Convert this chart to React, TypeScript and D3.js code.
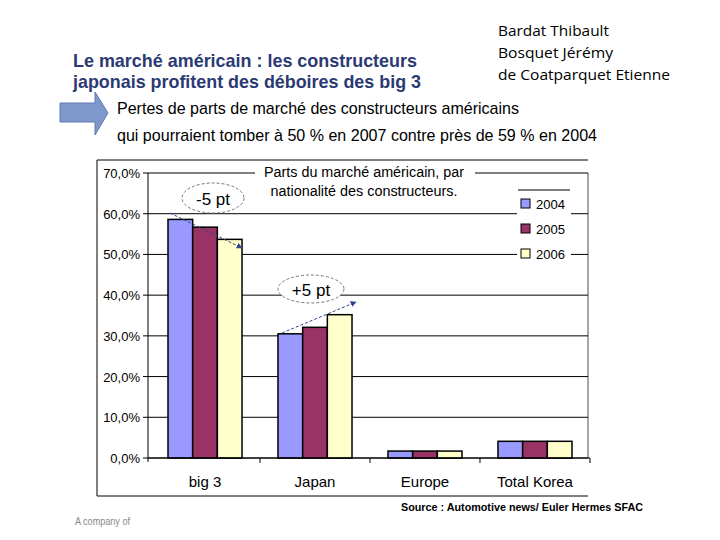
import React from "react";
import * as d3 from "d3";

const categories = ["big 3", "Japan", "Europe", "Total Korea"];
const years = ["2004", "2005", "2006"];
const values2004 = [0.586, 0.305, 0.017, 0.041];
const values2005 = [0.567, 0.321, 0.017, 0.041];
const values2006 = [0.537, 0.352, 0.017, 0.041];
const yTicks = [0, 0.1, 0.2, 0.3, 0.4, 0.5, 0.6, 0.7];
const colors = ["#9999ff", "#993366", "#ffffcc"];
const series = [values2004, values2005, values2006];

const titleLines = [
  "Le marché américain : les constructeurs",
  "japonais profitent des déboires des big 3",
];
const subLines = [
  "Pertes de parts de marché des constructeurs américains",
  "qui pourraient tomber à 50 % en 2007 contre près de 59 % en 2004",
];
const authors = ["Bardat Thibault", "Bosquet Jérémy", "de Coatparquet Etienne"];
const authorWidths = [111, 115, 172];
const chartTitle = ["Parts du marché américain, par", "nationalité des constructeurs."];

export default function App() {
  const y = d3.scaleLinear().domain([0, 0.7]).range([458, 173]);
  const x0 = d3
    .scaleBand<string>()
    .domain(categories)
    .range([150, 590])
    .paddingInner(0.327)
    .paddingOuter(0.1636);
  const x1 = d3.scaleBand<string>().domain(years).range([0, x0.bandwidth()]);
  const fmt = (v: number) => d3.format(".1%")(v).replace(".", ",");
  const sans = "'Liberation Sans', Arial, sans-serif";
  const axisX = 148;

  const arrow1 = { x1: x0("big 3")! + 2, y1: 213, x2: x0("big 3")! + x0.bandwidth(), y2: 248 };
  const arrow2 = { x1: x0("Japan")! + 4, y1: 333, x2: x0("Japan")! + x0.bandwidth() + 4, y2: 302 };

  return (
    <svg width={720} height={540} style={{ position: "absolute", left: 0, top: 0, background: "#fff" }}>
      <defs>
        <marker id="ah" viewBox="0 0 10 10" refX="9" refY="5" markerWidth="6" markerHeight="6" orient="auto">
          <path d="M0,0 L10,5 L0,10 z" fill="#2f4485" />
        </marker>
      </defs>
      <rect x={0} y={0} width={720} height={540} fill="#fff" />

      {/* Authors */}
      {authors.map((a, i) => (
        <text key={a} x={498} y={36 + i * 22} fontFamily="'Open Sans', sans-serif" fontSize={15} fill="#000"
          textLength={authorWidths[i]} lengthAdjust="spacingAndGlyphs">
          {a}
        </text>
      ))}

      {/* Title */}
      {titleLines.map((t, i) => (
        <text key={t} x={73} y={67 + i * 21} fontFamily={sans} fontWeight="bold" fontSize={19} fill="#2b3a73"
          textLength={i === 0 ? 344 : 348} lengthAdjust="spacingAndGlyphs">
          {t}
        </text>
      ))}

      {/* Block arrow */}
      <path d="M60,103 L95,103 L95,92 L108,113 L95,135 L95,122 L60,122 Z" fill="#7f98cc" stroke="#5f79b3" strokeWidth={1} />

      {subLines.map((t, i) => (
        <text key={t} x={117} y={114 + i * 27} fontFamily={sans} fontSize={17} fill="#000"
          textLength={i === 0 ? 402 : 480} lengthAdjust="spacingAndGlyphs">
          {t}
        </text>
      ))}

      {/* Chart frame */}
      <line x1={97} y1={160} x2={588} y2={160} stroke="#000" strokeWidth={1} />
      <line x1={97} y1={160} x2={97} y2={496} stroke="#000" strokeWidth={1} />
      <line x1={97} y1={496} x2={588} y2={496} stroke="#000" strokeWidth={1} />
      <line x1={588} y1={173} x2={588} y2={458} stroke="#888" strokeWidth={1.5} />

      {/* Gridlines */}
      {yTicks.map((t) => (
        <line key={"g" + t} x1={axisX} x2={588} y1={y(t)} y2={y(t)} stroke="#000" strokeWidth={1} />
      ))}

      {/* Chart title box */}
      <rect x={255} y={161} width={220} height={44} fill="#fff" />
      {chartTitle.map((t, i) => (
        <text key={t} x={364} y={177 + i * 19} textAnchor="middle" fontFamily={sans} fontSize={14} fill="#000"
          textLength={i === 0 ? 200 : 187} lengthAdjust="spacingAndGlyphs">
          {t}
        </text>
      ))}

      {/* Legend */}
      <rect x={517} y={190} width={54} height={80} fill="#fff" />
      <line x1={518} x2={570} y1={190} y2={190} stroke="#000" />
      {years.map((yr, i) => (
        <g key={yr}>
          <rect x={521} y={199 + i * 25} width={9} height={9} fill={colors[i]} stroke="#000" strokeWidth={1} />
          <text x={536} y={209 + i * 25} fontFamily={sans} fontSize={13} fill="#000">
            {yr}
          </text>
        </g>
      ))}

      {/* Bars */}
      {categories.map((c, ci) => (
        <g key={c} transform={`translate(${x0(c)},0)`}>
          {years.map((yr, si) => (
            <rect key={yr} x={x1(yr)} y={y(series[si][ci])} width={x1.bandwidth()}
              height={y(0) - y(series[si][ci])} fill={colors[si]} stroke="#000" strokeWidth={1.5} />
          ))}
        </g>
      ))}

      {/* Axes */}
      <line x1={axisX} x2={axisX} y1={173} y2={462} stroke="#000" strokeWidth={1} />
      <line x1={axisX} x2={590} y1={458} y2={458} stroke="#000" strokeWidth={1} />
      {yTicks.map((t) => (
        <g key={"t" + t}>
          <line x1={axisX - 5} x2={axisX} y1={y(t)} y2={y(t)} stroke="#000" />
          <text x={140} y={y(t) + 5} textAnchor="end" fontFamily={sans} fontSize={13} fill="#000">
            {fmt(t)}
          </text>
        </g>
      ))}
      {categories.map((c) => (
        <g key={"c" + c}>
          <line x1={x0(c)! - (x0.step() - x0.bandwidth()) / 2 + x0.step()} x2={x0(c)! - (x0.step() - x0.bandwidth()) / 2 + x0.step()}
            y1={458} y2={463} stroke="#000" />
          <text x={x0(c)! + x0.bandwidth() / 2} y={487} textAnchor="middle" fontFamily={sans} fontSize={15} fill="#000">
            {c}
          </text>
        </g>
      ))}

      {/* Annotations */}
      <ellipse cx={213} cy={198} rx={31} ry={15} fill="#fff" stroke="#777" strokeDasharray="3,2" />
      <text x={213} y={205} textAnchor="middle" fontFamily={sans} fontSize={17} fill="#000">-5 pt</text>
      <line {...arrow1} stroke="#2f4485" strokeWidth={1} strokeDasharray="3,2" markerEnd="url(#ah)" />

      <ellipse cx={311} cy={289} rx={33} ry={14} fill="#fff" stroke="#777" strokeDasharray="3,2" />
      <text x={311} y={296} textAnchor="middle" fontFamily={sans} fontSize={17} fill="#000">+5 pt</text>
      <line {...arrow2} stroke="#2f4485" strokeWidth={1} strokeDasharray="3,2" markerEnd="url(#ah)" />

      {/* Source */}
      <text x={401} y={511} fontFamily={sans} fontWeight="bold" fontSize={11} fill="#000" textLength={242} lengthAdjust="spacingAndGlyphs">
        Source : Automotive news/ Euler Hermes SFAC
      </text>
      <text x={75} y={525} fontFamily={sans} fontSize={11} fill="#888" textLength={55} lengthAdjust="spacingAndGlyphs">
        A company of
      </text>
    </svg>
  );
}
